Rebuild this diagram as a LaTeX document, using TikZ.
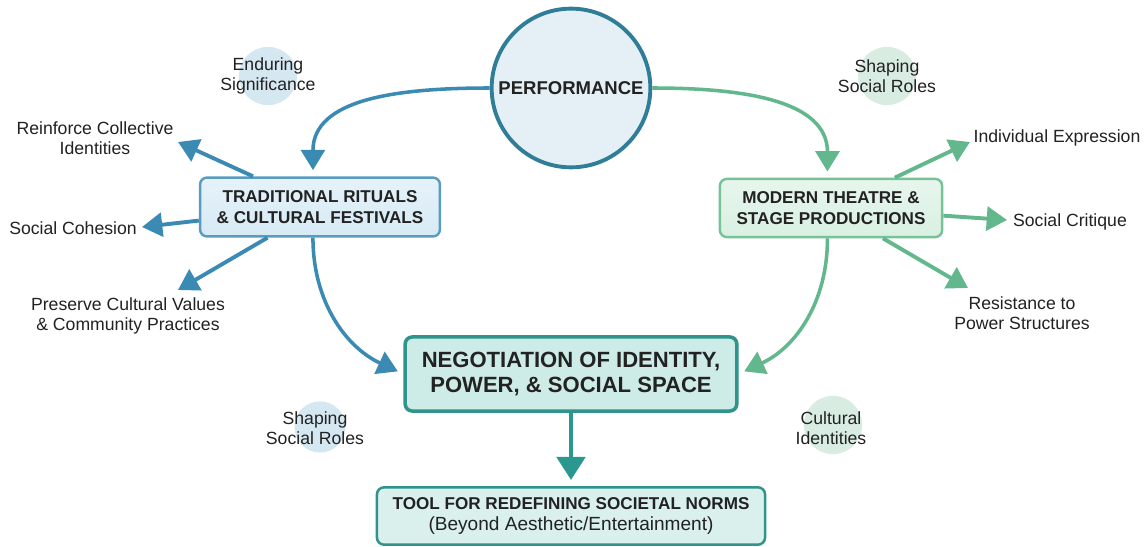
\documentclass[tikz,border=0pt]{standalone}
\usepackage{fontspec}
\setmainfont{Liberation Sans}
\usetikzlibrary{arrows.meta}
\definecolor{blueline}{HTML}{3B8AB3}
\definecolor{bluefill}{HTML}{D6EAF5}
\definecolor{blueedge}{HTML}{5A9CC0}
\definecolor{bluesoft}{HTML}{D5E7F1}
\definecolor{greenline}{HTML}{62B88C}
\definecolor{greenfill}{HTML}{D8F0E2}
\definecolor{greenedge}{HTML}{78C298}
\definecolor{greensoft}{HTML}{D8ECE1}
\definecolor{tealline}{HTML}{2B9890}
\definecolor{tealfill}{HTML}{CDEBE7}
\definecolor{tealedge}{HTML}{2E948C}
\definecolor{perfedge}{HTML}{2F7D96}
\definecolor{perffill}{HTML}{E4F0F5}
\definecolor{inktext}{HTML}{222222}

\begin{document}
\begin{tikzpicture}[x=0.5669pt,y=-0.5669pt,>={Triangle[width=13.5pt,length=11.5pt]},
      stagebox/.style={rectangle,rounded corners=4pt,draw,line width=1.4pt,align=center,
        text=inktext,font=\bfseries\fontsize{9.7}{12}\selectfont},
      note/.style={align=center,text=inktext,font=\fontsize{10}{11.5}\selectfont},
      bubble/.style={circle,minimum size=33pt,inner sep=0pt}]

      \fill[white] (0,0) rectangle (1147,547);
      \useasboundingbox (0,0) rectangle (1147,547);

      \node[circle,draw=perfedge,fill=perffill,line width=2.2pt,minimum size=86pt,
        text=inktext,font=\bfseries\fontsize{10.5}{12}\selectfont] (perf) at (571,88) {PERFORMANCE};

      \node[stagebox,draw=blueedge,top color=bluefill!60!white,bottom color=bluefill,minimum width=136pt,minimum height=33.4pt] (trad) at (320,207)
        {TRADITIONAL RITUALS\\\& CULTURAL FESTIVALS};
      \node[stagebox,draw=greenedge,top color=greenfill!60!white,bottom color=greenfill,minimum width=126pt,minimum height=33pt] (mod) at (831,208)
        {MODERN THEATRE \&\\STAGE PRODUCTIONS};
      \node[stagebox,draw=tealedge,fill=tealfill,line width=2pt,minimum width=188pt,minimum height=42pt,
        font=\bfseries\fontsize{12.5}{14.7}\selectfont] (neg) at (571,374)
        {NEGOTIATION OF IDENTITY,\\POWER, \& SOCIAL SPACE};
      \node[stagebox,draw=tealedge,fill=tealfill!75!white,minimum width=220pt,minimum height=32.5pt] (tool) at (571,516)
        {TOOL FOR REDEFINING SOCIETAL NORMS\\{\mdseries\fontsize{10.8}{12}\selectfont (Beyond Aesthetic/Entertainment)}};

      \node[bubble,fill=bluesoft] (endurebg) at (268,76) {};
      \node[bubble,fill=greensoft] (rolestopbg) at (887,76) {};
      \node[bubble,fill=bluesoft,minimum size=29pt] (rolesbotbg) at (320,427) {};
      \node[bubble,fill=greensoft] (culturebg) at (833,425) {};

      \node[note] (endure) at (268,76) {Enduring\\Significance};
      \node[note] (rolestop) at (887,76) {Shaping\\Social Roles};
      \node[note] (rolesbot) at (315,428) {Shaping\\Social Roles};
      \node[note] (culture) at (831,428) {Cultural\\Identities};

      \node[note] (reinf) at (95,138) {Reinforce Collective\\Identities};
      \node[note] (cohes) at (73,228) {Social Cohesion};
      \node[note] (preserve) at (128,316) {Preserve Cultural Values\\\& Community Practices};
      \node[note] (indiv) at (1057,138) {Individual Expression};
      \node[note] (critique) at (1070,222) {Social Critique};
      \node[note] (resist) at (1022,313) {Resistance to\\Power Structures};

      \coordinate (reinftip) at (178,142);
      \coordinate (cohestip) at (142,227);
      \coordinate (presertip) at (178,290);
      \coordinate (indivtip) at (970,142);
      \coordinate (critiqtip) at (1007,220);
      \coordinate (resisttip) at (968,288);

      \path[->,line width=2pt,shorten >=3.5pt]
      (perf.west) edge [blueline,out=180,in=90,out looseness=1.2] ([xshift=-4pt]trad.north)
      (perf.east) edge [greenline,out=0,in=90,out looseness=1.2] ([xshift=-2pt]mod.north)
      ([xshift=-4pt]trad.south) edge [blueline,out=-90,in=155] (neg.west)
      ([xshift=-2pt]mod.south) edge [greenline,out=-90,in=25] (neg.east)
      (neg) edge [tealline,line width=2.4pt,>={Triangle[width=16pt,length=13pt]}] (tool);

      \path[->,line width=2.2pt]
      (trad) edge [blueline] (reinftip)
      (trad) edge [blueline] (cohestip)
      (trad) edge [blueline] (presertip)
      (mod) edge [greenline] (indivtip)
      (mod) edge [greenline] (critiqtip)
      (mod) edge [greenline] (resisttip);
\end{tikzpicture}
\end{document}
